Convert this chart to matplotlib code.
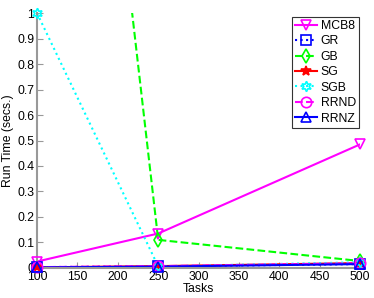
import matplotlib
matplotlib.use("Agg")
import matplotlib.pyplot as plt
from matplotlib.lines import Line2D

plt.rcParams['font.family'] = ['Liberation Sans', 'DejaVu Sans']

tasks = [100, 250, 500]

# run times (secs.)
mcb8 = [0.025, 0.135, 0.485]
gr = [0.003, 0.006, 0.015]
gb = [4.25, 0.11, 0.027]
sg = [0.002, 0.007, 0.019]
sgb = [1.0, 0.006, 0.022]
rrnd = [0.003, 0.007, 0.018]
rrnz = [0.002, 0.005, 0.015]

series = [
    ("MCB8", mcb8, "#ff00ff", "-", "v", "none"),
    ("GR", gr, "#0000ff", ":", "s", "none"),
    ("GB", gb, "#00ff00", "--", "d", "none"),
    ("SG", sg, "#ff0000", "-", "*", "#ff0000"),
    ("SGB", sgb, "#00ffff", ":", (6, 1, 0), "none"),
    ("RRND", rrnd, "#ff00ff", "--", "o", "none"),
    ("RRNZ", rrnz, "#0000ff", "-", "^", "none"),
]

ymax = 1.0

fig = plt.figure(figsize=(3.74, 2.98), dpi=100)
ax = fig.add_axes([0.099, 0.101, 0.864, 0.855])

handles = []
for name, vals, col, ls, mk, fc in series:
    mstyle = dict(color=col, marker=mk, markersize=7.5, markerfacecolor=fc,
                  markeredgecolor=col, markeredgewidth=1.2)
    # line is clipped at the axes box
    ax.plot(tasks, vals, linestyle=ls, linewidth=1.5, color=col)
    # markers inside the y range are drawn whole, even on the edges
    xs = [t for t, v in zip(tasks, vals) if v <= ymax]
    ys = [v for v in vals if v <= ymax]
    ax.plot(xs, ys, linestyle="none", clip_on=False, zorder=3, **mstyle)
    handles.append(Line2D([], [], linestyle=ls, linewidth=1.5, **mstyle))

ax.set_xlim(100, 500)
ax.set_ylim(0, ymax)
ax.set_xticks([100, 150, 200, 250, 300, 350, 400, 450, 500])
ax.set_yticks([0, 0.1, 0.2, 0.3, 0.4, 0.5, 0.6, 0.7, 0.8, 0.9, 1])
ax.set_yticklabels(["0", "0.1", "0.2", "0.3", "0.4", "0.5", "0.6", "0.7", "0.8", "0.9", "1"])

for s in ["top", "right"]:
    ax.spines[s].set_visible(False)
for s in ["left", "bottom"]:
    ax.spines[s].set_color("#999999")
    ax.spines[s].set_linewidth(1.5)
ax.tick_params(direction="in", color="#999999", length=4, labelsize=8.8, pad=2)

ax.set_xlabel("Tasks", fontsize=8.8, labelpad=0)
ax.set_ylabel("Run Time (secs.)", fontsize=8.8, labelpad=2)

leg = ax.legend(handles, [s[0] for s in series], loc="upper left",
                bbox_to_anchor=(0.789, 0.985), fontsize=8.8,
                handlelength=1.8, handletextpad=0.3, borderpad=0.25,
                labelspacing=0.28, fancybox=False, framealpha=1,
                borderaxespad=0.0)
leg.get_frame().set_edgecolor("#333333")
leg.get_frame().set_linewidth(0.8)

fig.savefig("out.png", dpi=100)
